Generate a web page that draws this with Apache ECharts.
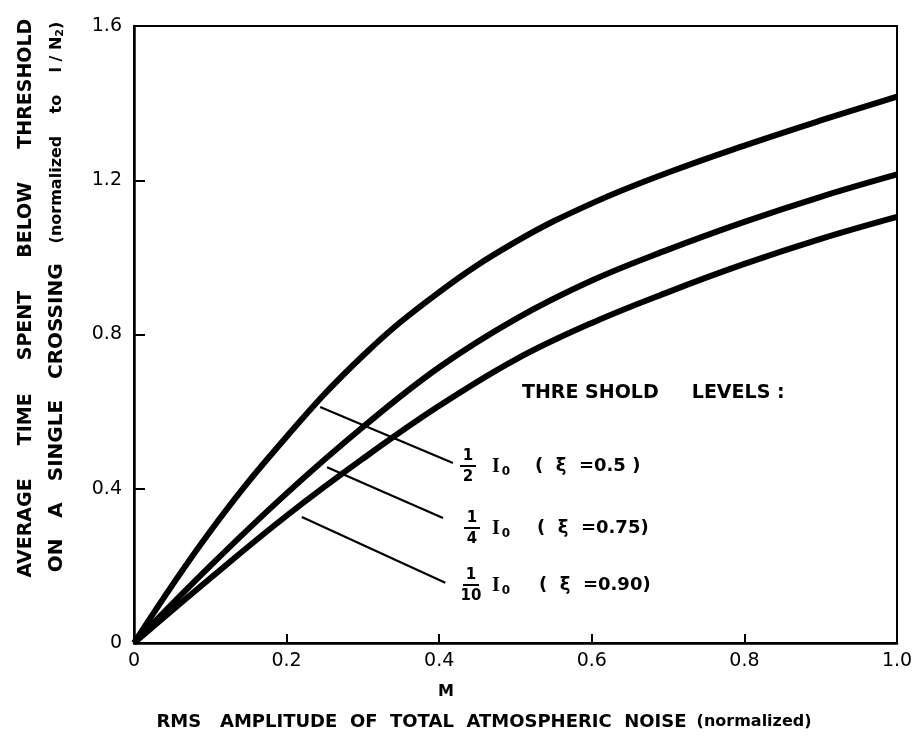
<!DOCTYPE html>
<html>
<head>
<meta charset="utf-8">
<script src="https://cdn.jsdelivr.net/npm/echarts@6/dist/echarts.min.js"></script>
<style>html,body{margin:0;padding:0;background:#fff}#c{width:919px;height:738px}</style>
</head>
<body>
<div id="c"></div>
<script>
// ---- data ----
var mValues = [0, 0.1, 0.2, 0.3, 0.4, 0.5, 0.6, 0.7, 0.8, 0.9, 1.0];
var halfI0 = [0, 0.29, 0.535, 0.745, 0.91, 1.04, 1.14, 1.22, 1.29, 1.355, 1.417];     // xi = 0.5
var quarterI0 = [0, 0.2, 0.388, 0.56, 0.715, 0.84, 0.94, 1.02, 1.092, 1.157, 1.215];  // xi = 0.75
var tenthI0 = [0, 0.168, 0.33, 0.478, 0.615, 0.735, 0.83, 0.91, 0.983, 1.048, 1.105]; // xi = 0.90
var xTicks = ['0', '0.2', '0.4', '0.6', '0.8', '1.0'];
var yTicks = ['0', '0.4', '0.8', '1.2', '1.6'];
// pointer lines (data coordinates) from curves to labels
var pointerHalf = [[0.244, 0.612], [0.418, 0.467]];
var pointerQuarter = [[0.253, 0.456], [0.405, 0.324]];
var pointerTenth = [[0.220, 0.327], [0.408, 0.156]];

function pairs(xs, ys) { return xs.map(function (x, i) { return [x, ys[i]]; }); }

var FONT = 'DejaVu Sans';
var chart = echarts.init(document.getElementById('c'), null, { renderer: 'canvas' });

function curve(name, vals) {
  return { name: name, type: 'line', data: pairs(mValues, vals), smooth: 0.4, showSymbol: false,
    lineStyle: { color: '#000', width: 6 }, z: 3 };
}
function pointer(arr) {
  return { type: 'line', data: arr, showSymbol: false, lineStyle: { color: '#000', width: 2.2 }, z: 2 };
}

function frac(x, y, num, den, iX, restX, rest) {
  return [
    { type: 'text', x: x, y: y - 10, style: { text: num, font: 'bold 15px ' + FONT, fill: '#000', align: 'center', verticalAlign: 'middle' } },
    { type: 'line', shape: { x1: x - 8, y1: y, x2: x + 8, y2: y }, style: { stroke: '#000', lineWidth: 2 } },
    { type: 'text', x: x, y: y + 11, style: { text: den, font: 'bold 15px ' + FONT, fill: '#000', align: 'center', verticalAlign: 'middle' } },
    { type: 'text', x: iX, y: y + 1, style: {
      text: '{i|I}{s|0}',
      rich: {
        i: { font: 'bold 20px "Liberation Serif"', fill: '#000' },
        s: { font: 'bold 12px ' + FONT, fill: '#000', padding: [9, 0, 0, 2] }
      },
      verticalAlign: 'middle', align: 'left' } },
    { type: 'text', x: restX, y: y, style: { text: rest, font: 'bold 18px ' + FONT, fill: '#000', align: 'left', verticalAlign: 'middle' } }
  ];
}

var graphics = [
  { type: 'text', x: 26, y: 298, rotation: Math.PI / 2, style: {
    text: 'AVERAGE     TIME     SPENT     BELOW     THRESHOLD', font: 'bold 19px ' + FONT, fill: '#000', align: 'center', verticalAlign: 'middle' } },
  { type: 'text', x: 57, y: 297, rotation: Math.PI / 2, style: {
    text: '{a|ON   A   SINGLE   CROSSING}      {b|(normalized    to    l / N}{c|2}{b|)}',
    rich: {
      a: { font: 'bold 20px ' + FONT, fill: '#000' },
      b: { font: 'bold 16px ' + FONT, fill: '#000' },
      c: { font: 'bold 11px ' + FONT, fill: '#000', padding: [6, 0, 0, 0] }
    },
    align: 'center', verticalAlign: 'middle' } },
  { type: 'text', x: 446, y: 692, style: { text: 'M', font: 'bold 16px ' + FONT, fill: '#000', align: 'center', verticalAlign: 'middle' } },
  { type: 'text', x: 484, y: 722, style: {
    text: '{a|RMS   AMPLITUDE  OF  TOTAL  ATMOSPHERIC  NOISE}   {b|(normalized)}',
    rich: { a: { font: 'bold 18px ' + FONT, fill: '#000' }, b: { font: 'bold 16px ' + FONT, fill: '#000' } },
    align: 'center', verticalAlign: 'middle' } },
  { type: 'text', x: 522, y: 393, style: { text: 'THRE SHOLD     LEVELS :', font: 'bold 19px ' + FONT, fill: '#000', align: 'left', verticalAlign: 'middle' } }
].concat(frac(468, 466, '1', '2', 492, 535, '(  ξ  =0.5 )'))
 .concat(frac(472, 528, '1', '4', 492, 537, '(  ξ  =0.75)'))
 .concat(frac(471, 585, '1', '10', 492, 539, '(  ξ  =0.90)'));

chart.setOption({
  animation: false,
  backgroundColor: '#fff',
  grid: { left: 134, right: 22, top: 26, bottom: 95, show: true, borderColor: '#000', borderWidth: 2, backgroundColor: 'transparent' },
  xAxis: {
    type: 'value', min: 0, max: 1, interval: 0.2,
    axisLine: { lineStyle: { color: '#000', width: 2.5 } },
    axisTick: { inside: true, length: 9, lineStyle: { color: '#000', width: 2 } },
    axisLabel: { color: '#000', fontFamily: FONT, fontSize: 19, margin: 9,
      formatter: function (v) { return xTicks[Math.round(v / 0.2)]; } },
    splitLine: { show: false }
  },
  yAxis: {
    type: 'value', min: 0, max: 1.6, interval: 0.4,
    axisLine: { show: true, lineStyle: { color: '#000', width: 2.5 } },
    axisTick: { show: true, inside: true, length: 11, lineStyle: { color: '#000', width: 2 } },
    axisLabel: { color: '#000', fontFamily: FONT, fontSize: 19, margin: 12,
      formatter: function (v) { return yTicks[Math.round(v / 0.4)]; } },
    splitLine: { show: false }
  },
  series: [
    curve('1/2 I0 (xi=0.5)', halfI0),
    curve('1/4 I0 (xi=0.75)', quarterI0),
    curve('1/10 I0 (xi=0.90)', tenthI0),
    pointer(pointerHalf), pointer(pointerQuarter), pointer(pointerTenth)
  ],
  graphic: graphics
});
</script>
</body>
</html>
